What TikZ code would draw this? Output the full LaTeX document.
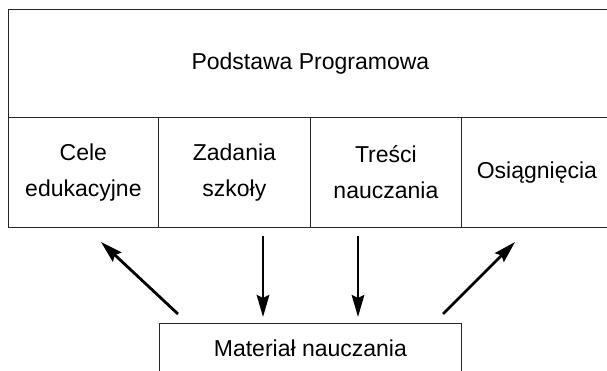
\documentclass[tikz,border=0pt]{standalone}
\usepackage{fontspec}
\setmainfont{Liberation Sans}
\usetikzlibrary{arrows.meta}
\begin{document}
\begin{tikzpicture}[x=1pt,y=1pt,
  cell/.style={draw=black!85, line width=0.8pt, rectangle, inner sep=0pt, align=center,
    font=\fontsize{23}{36}\selectfont, anchor=north west},
  flow/.style={line width=2.8pt, -{Stealth[length=22pt,width=12.5pt,inset=3pt]}}]
\useasboundingbox (0,0) rectangle (607,370);
\node[cell, minimum width=604, minimum height=108] (top) at (8,361) {Podstawa Programowa};
\node[cell, minimum width=150, minimum height=110] (c1) at (8,253) {Cele\\edukacyjne};
\node[cell, minimum width=152, minimum height=110] (c2) at (158,253) {Zadania\\szkoły};
\node[cell, minimum width=151, minimum height=110] (c3) at (310,253) {Treści\\nauczania};
\node[cell, minimum width=151, minimum height=110] (c4) at (461,253) {Osiągnięcia};
\node[cell, minimum width=302, minimum height=50] (mat) at (159,47) {Materiał nauczania};
\coordinate (a1s) at (178,56);  \coordinate (a1e) at (101,128);
\coordinate (a2s) at (263,134); \coordinate (a2e) at (263,53);
\coordinate (a3s) at (358,134); \coordinate (a3e) at (358,53);
\coordinate (a4s) at (443,56);  \coordinate (a4e) at (515,128);
\draw[flow] (a1s) -- (a1e);
\draw[flow] (a2s) -- (a2e);
\draw[flow] (a3s) -- (a3e);
\draw[flow] (a4s) -- (a4e);
\end{tikzpicture}
\end{document}
